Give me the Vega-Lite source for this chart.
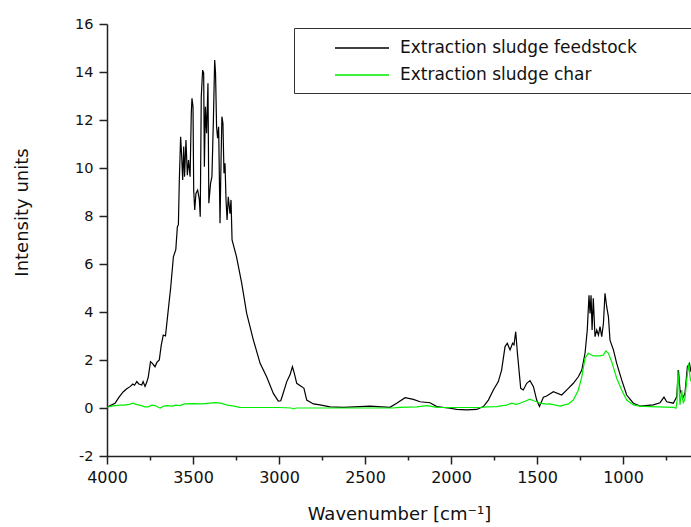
{
  "$schema": "https://vega.github.io/schema/vega-lite/v6.json",
  "autosize": "none",
  "width": 584,
  "height": 432,
  "padding": {"left": 107, "top": 24, "right": 0, "bottom": 71},
  "background": "white",
  "config": {
    "view": {"stroke": null},
    "font": "DejaVu Sans"
  },
  "datasets": {
    "feed": [
      {"w":4000,"v":0.03},{"w":3975,"v":0.12},{"w":3953,"v":0.2},{"w":3930,"v":0.45},{"w":3905,"v":0.68},{"w":3885,"v":0.8},{"w":3866,"v":0.89},{"w":3850,"v":1.0},{"w":3840,"v":0.95},{"w":3827,"v":1.1},{"w":3815,"v":1.0},{"w":3798,"v":0.96},{"w":3790,"v":1.1},{"w":3779,"v":0.9},{"w":3770,"v":1.05},{"w":3760,"v":1.3},{"w":3747,"v":1.93},{"w":3735,"v":1.85},{"w":3721,"v":1.72},{"w":3710,"v":1.9},{"w":3696,"v":2.0},{"w":3685,"v":2.6},{"w":3673,"v":3.04},{"w":3660,"v":3.0},{"w":3644,"v":4.08},{"w":3630,"v":5.0},{"w":3614,"v":6.3},{"w":3600,"v":6.6},{"w":3591,"v":7.55},{"w":3585,"v":7.63},{"w":3580,"v":9.36},{"w":3572,"v":11.3},{"w":3566,"v":10.5},{"w":3560,"v":9.5},{"w":3554,"v":10.9},{"w":3549,"v":9.64},{"w":3541,"v":11.17},{"w":3533,"v":9.7},{"w":3526,"v":10.33},{"w":3517,"v":9.64},{"w":3510,"v":12.28},{"w":3506,"v":12.9},{"w":3500,"v":12.55},{"w":3496,"v":9.08},{"w":3490,"v":8.25},{"w":3483,"v":8.94},{"w":3473,"v":9.08},{"w":3463,"v":8.67},{"w":3458,"v":7.97},{"w":3452,"v":12.97},{"w":3444,"v":14.08},{"w":3438,"v":13.95},{"w":3434,"v":10.05},{"w":3428,"v":12.55},{"w":3421,"v":11.45},{"w":3413,"v":13.53},{"w":3408,"v":8.53},{"w":3398,"v":9.36},{"w":3390,"v":9.64},{"w":3382,"v":11.86},{"w":3374,"v":14.5},{"w":3369,"v":13.95},{"w":3363,"v":11.72},{"w":3357,"v":11.24},{"w":3351,"v":11.72},{"w":3343,"v":7.7},{"w":3337,"v":10.33},{"w":3332,"v":12.14},{"w":3326,"v":11.86},{"w":3320,"v":9.78},{"w":3314,"v":10.2},{"w":3308,"v":8.67},{"w":3302,"v":7.83},{"w":3295,"v":8.8},{"w":3285,"v":8.1},{"w":3279,"v":8.67},{"w":3273,"v":7.0},{"w":3247,"v":6.3},{"w":3217,"v":5.2},{"w":3188,"v":3.94},{"w":3149,"v":2.83},{"w":3110,"v":1.86},{"w":3072,"v":1.3},{"w":3033,"v":0.61},{"w":3004,"v":0.29},{"w":2990,"v":0.3},{"w":2979,"v":0.54},{"w":2955,"v":1.1},{"w":2936,"v":1.38},{"w":2922,"v":1.72},{"w":2911,"v":1.44},{"w":2897,"v":1.03},{"w":2868,"v":0.89},{"w":2855,"v":0.82},{"w":2839,"v":0.33},{"w":2800,"v":0.17},{"w":2762,"v":0.13},{"w":2703,"v":0.05},{"w":2626,"v":0.03},{"w":2471,"v":0.08},{"w":2355,"v":0.03},{"w":2316,"v":0.2},{"w":2267,"v":0.43},{"w":2219,"v":0.36},{"w":2180,"v":0.26},{"w":2122,"v":0.22},{"w":2083,"v":0.06},{"w":2006,"v":-0.01},{"w":1967,"v":-0.06},{"w":1909,"v":-0.08},{"w":1851,"v":-0.06},{"w":1812,"v":0.06},{"w":1783,"v":0.33},{"w":1754,"v":0.75},{"w":1725,"v":1.1},{"w":1706,"v":1.58},{"w":1686,"v":2.56},{"w":1673,"v":2.7},{"w":1657,"v":2.42},{"w":1642,"v":2.7},{"w":1634,"v":2.63},{"w":1624,"v":3.18},{"w":1614,"v":2.28},{"w":1595,"v":0.82},{"w":1580,"v":0.75},{"w":1560,"v":1.03},{"w":1541,"v":1.14},{"w":1521,"v":0.89},{"w":1502,"v":0.33},{"w":1486,"v":0.06},{"w":1463,"v":0.45},{"w":1444,"v":0.5},{"w":1405,"v":0.68},{"w":1357,"v":0.54},{"w":1318,"v":0.82},{"w":1289,"v":1.03},{"w":1260,"v":1.3},{"w":1240,"v":1.58},{"w":1221,"v":2.28},{"w":1208,"v":3.25},{"w":1198,"v":4.7},{"w":1192,"v":3.94},{"w":1186,"v":4.7},{"w":1180,"v":3.25},{"w":1173,"v":4.57},{"w":1163,"v":2.97},{"w":1153,"v":3.25},{"w":1143,"v":3.04},{"w":1134,"v":3.39},{"w":1124,"v":2.97},{"w":1114,"v":3.53},{"w":1105,"v":4.78},{"w":1095,"v":4.22},{"w":1085,"v":3.8},{"w":1076,"v":2.83},{"w":1056,"v":2.42},{"w":1037,"v":1.86},{"w":1008,"v":1.17},{"w":979,"v":0.54},{"w":940,"v":0.2},{"w":901,"v":0.08},{"w":824,"v":0.13},{"w":785,"v":0.22},{"w":762,"v":0.45},{"w":746,"v":0.26},{"w":708,"v":0.2},{"w":688,"v":0.47},{"w":678,"v":1.58},{"w":669,"v":0.75},{"w":653,"v":0.4},{"w":640,"v":0.61},{"w":626,"v":1.72},{"w":614,"v":1.86},{"w":605,"v":1.5}
    ],
    "char": [
      {"w":4000,"v":0.03},{"w":3975,"v":0.08},{"w":3950,"v":0.1},{"w":3925,"v":0.12},{"w":3900,"v":0.12},{"w":3870,"v":0.15},{"w":3850,"v":0.2},{"w":3830,"v":0.15},{"w":3800,"v":0.1},{"w":3780,"v":0.05},{"w":3760,"v":0.05},{"w":3740,"v":0.12},{"w":3720,"v":0.1},{"w":3700,"v":0.02},{"w":3690,"v":0.0},{"w":3670,"v":0.08},{"w":3650,"v":0.1},{"w":3620,"v":0.08},{"w":3600,"v":0.12},{"w":3575,"v":0.1},{"w":3550,"v":0.17},{"w":3500,"v":0.18},{"w":3450,"v":0.17},{"w":3400,"v":0.2},{"w":3370,"v":0.22},{"w":3340,"v":0.2},{"w":3300,"v":0.12},{"w":3260,"v":0.08},{"w":3230,"v":0.03},{"w":3200,"v":0.02},{"w":3000,"v":0.02},{"w":2930,"v":0.0},{"w":2915,"v":-0.04},{"w":2900,"v":0.0},{"w":2700,"v":0.0},{"w":2340,"v":0.0},{"w":2300,"v":0.03},{"w":2200,"v":0.05},{"w":2140,"v":0.1},{"w":2083,"v":0.03},{"w":1830,"v":0.02},{"w":1793,"v":0.05},{"w":1735,"v":0.06},{"w":1700,"v":0.1},{"w":1677,"v":0.12},{"w":1648,"v":0.2},{"w":1620,"v":0.15},{"w":1600,"v":0.2},{"w":1570,"v":0.28},{"w":1541,"v":0.37},{"w":1520,"v":0.3},{"w":1502,"v":0.26},{"w":1483,"v":0.2},{"w":1444,"v":0.16},{"w":1424,"v":0.17},{"w":1366,"v":0.08},{"w":1318,"v":0.17},{"w":1289,"v":0.33},{"w":1260,"v":0.75},{"w":1240,"v":1.3},{"w":1221,"v":2.07},{"w":1202,"v":2.28},{"w":1173,"v":2.17},{"w":1134,"v":2.17},{"w":1114,"v":2.21},{"w":1100,"v":2.38},{"w":1085,"v":2.28},{"w":1066,"v":1.93},{"w":1037,"v":1.24},{"w":1008,"v":0.75},{"w":979,"v":0.33},{"w":940,"v":0.13},{"w":901,"v":0.08},{"w":843,"v":0.06},{"w":708,"v":0.03},{"w":692,"v":-0.01},{"w":686,"v":0.3},{"w":682,"v":1.58},{"w":677,"v":1.17},{"w":672,"v":0.5},{"w":669,"v":0.13},{"w":659,"v":0.75},{"w":650,"v":0.2},{"w":640,"v":0.4},{"w":630,"v":1.17},{"w":618,"v":1.86},{"w":611,"v":1.3},{"w":605,"v":1.1}
    ]
  },
  "layer": [
    {
      "data": {"name": "feed"},
      "mark": {"type": "line", "strokeWidth": 1.2, "clip": true},
      "encoding": {
        "x": {
          "field": "w", "type": "quantitative",
          "scale": {"domain": [4000, 605], "nice": false, "zero": false},
          "axis": {
            "title": "Wavenumber [cm⁻¹]",
            "values": [4000,3750,3500,3250,3000,2750,2500,2250,2000,1750,1500,1250,1000,750],
            "labelExpr": "datum.value % 500 === 0 ? datum.value : ''",
            "grid": false,
            "domainColor": "#222",
            "domainWidth": 1.5,
            "tickColor": "#222",
            "tickWidth": 1.5,
            "tickSize": {"condition": {"test": "datum.value % 500 === 0", "value": 8}, "value": 4},
            "labelFontSize": 16,
            "labelColor": "#111",
            "labelPadding": 5,
            "labelFlush": false,
            "labelOverlap": false,
            "titleFontSize": 18,
            "titleFontWeight": "normal",
            "titleColor": "#111",
            "titleX": 292,
            "titleY": 49
          }
        },
        "y": {
          "field": "v", "type": "quantitative",
          "scale": {"domain": [-2, 16], "nice": false, "zero": false},
          "axis": {
            "title": "Intensity units",
            "values": [-2,-1,0,1,2,3,4,5,6,7,8,9,10,11,12,13,14,15,16],
            "labelExpr": "datum.value % 2 === 0 ? datum.value : ''",
            "grid": false,
            "domainColor": "#222",
            "domainWidth": 1.5,
            "tickColor": "#222",
            "tickWidth": 1.5,
            "tickSize": {"condition": {"test": "datum.value % 2 === 0", "value": 8}, "value": 4},
            "labelFontSize": 14.5,
            "labelColor": "#111",
            "labelPadding": 6,
            "labelFlush": false,
            "labelOverlap": false,
            "titleFontSize": 18,
            "titleFontWeight": "normal",
            "titleColor": "#111",
            "titleX": -85,
            "titleY": 188,
            "titleBaseline": "middle"
          }
        },
        "color": {
          "datum": "Extraction sludge feedstock",
          "type": "nominal",
          "scale": {"domain": ["Extraction sludge feedstock", "Extraction sludge char"], "range": ["#000000", "#00ee00"]},
          "legend": {
            "title": " ",
            "titleOrient": "right",
            "titlePadding": 50,
            "orient": "none",
            "legendX": 187,
            "legendY": 4,
            "padding": 10,
            "strokeColor": "#333",
            "fillColor": "white",
            "symbolType": "M-3,0H3",
            "symbolSize": 324,
            "symbolStrokeWidth": 1.5,
            "symbolOffset": 48,
            "labelOffset": 28,
            "labelFontSize": 17,
            "labelColor": "#111",
            "rowPadding": 9,
            "labelLimit": 400
          }
        }
      }
    },
    {
      "data": {"name": "char"},
      "mark": {"type": "line", "strokeWidth": 1.2, "clip": true},
      "encoding": {
        "x": {"field": "w", "type": "quantitative"},
        "y": {"field": "v", "type": "quantitative"},
        "color": {"datum": "Extraction sludge char", "type": "nominal"}
      }
    }
  ]
}
